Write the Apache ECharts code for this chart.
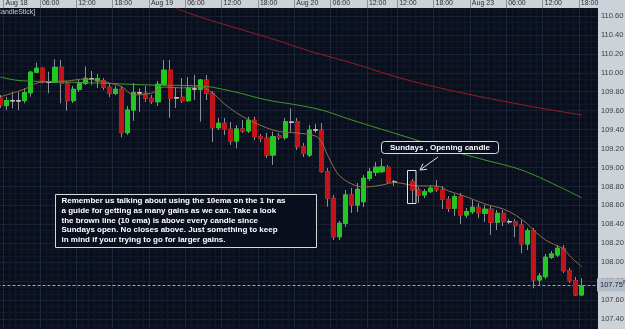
<!DOCTYPE html>
<html><head><meta charset="utf-8">
<script src="https://cdn.jsdelivr.net/npm/echarts@6/dist/echarts.min.js"></script>
<style>html,body{margin:0;padding:0;background:#cdd1d8;}#c{width:625px;height:329px;}</style>
</head><body><div id="c"></div>
<script>
// ---- data (hourly candles, index 0..96) ----
const opens = [109.731,109.653,109.703,109.705,109.706,109.790,110.006,110.048,109.905,109.900,
110.058,109.889,109.706,109.826,109.889,109.937,109.914,109.917,109.847,109.784,
109.826,109.368,109.607,109.790,109.784,109.731,109.695,109.879,110.027,109.737,
109.742,109.706,109.830,109.826,109.924,109.784,109.420,109.467,109.404,109.280,
109.407,109.386,109.499,109.325,109.308,109.132,109.333,109.315,109.480,109.484,
109.220,109.132,109.398,109.396,108.956,108.675,108.269,108.411,108.710,108.604,
108.639,108.886,108.949,108.956,109.002,108.848,null,null,108.850,108.763,
108.710,108.745,108.791,108.763,108.664,108.569,108.692,108.498,108.533,108.580,
108.516,108.559,108.422,108.516,108.428,108.428,108.393,108.192,108.333,107.812,
107.847,108.052,108.076,108.147,107.910,107.805,107.654];
const closes = [109.660,109.706,109.706,109.702,109.790,110.006,110.048,109.906,109.901,110.058,
109.889,109.706,109.826,109.889,109.942,109.933,109.940,109.847,109.784,109.826,
109.368,109.607,109.790,109.786,109.731,109.695,109.879,110.027,109.731,109.733,
109.706,109.837,109.828,109.924,109.784,109.420,109.467,109.404,109.280,109.407,
109.386,109.499,109.325,109.308,109.132,109.325,109.315,109.484,109.477,109.220,
109.150,109.396,109.395,108.956,108.675,108.269,108.411,108.710,108.604,108.770,
108.886,108.956,109.002,109.006,108.850,108.845,null,null,108.763,108.710,
108.745,108.781,108.763,108.664,108.569,108.692,108.498,108.533,108.580,108.523,
108.559,108.422,108.516,108.428,108.426,108.386,108.192,108.333,107.812,107.854,
108.052,108.087,108.147,107.910,107.805,107.654,107.749];
const highs = [109.766,109.745,109.800,109.800,109.836,110.022,110.107,110.058,110.012,110.143,
110.135,109.914,109.861,109.924,110.065,110.019,109.988,109.945,109.882,109.861,
109.861,109.650,109.893,109.836,109.861,109.766,109.914,110.135,110.135,109.840,
109.945,109.956,109.977,109.935,109.977,109.808,109.523,109.523,109.481,109.449,
109.502,109.537,109.537,109.354,109.364,109.378,109.364,109.523,109.625,109.523,
109.259,109.449,109.460,109.470,108.995,108.710,108.435,108.763,108.784,108.837,
108.921,108.995,109.058,109.097,109.027,108.868,null,null,108.879,108.794,
108.773,108.815,108.868,108.805,108.699,108.720,108.731,108.572,108.657,108.625,
108.604,108.594,108.551,108.551,108.456,108.456,108.446,108.361,108.361,107.886,
108.087,108.118,108.182,108.182,107.939,107.844,107.830];
const lows = [109.629,109.607,109.625,109.607,109.678,109.748,109.998,109.889,109.784,109.893,
109.678,109.600,109.681,109.797,109.871,109.871,109.840,109.819,109.745,109.766,
109.319,109.343,109.494,109.589,109.692,109.671,109.650,109.861,109.526,109.629,
109.681,109.692,109.713,109.484,109.713,109.269,109.396,109.343,109.238,109.203,
109.364,109.364,109.291,109.269,109.100,109.027,109.291,109.291,109.378,109.185,
109.111,109.111,109.364,108.942,108.586,108.234,108.234,108.372,108.520,108.530,
108.583,108.858,108.910,108.942,108.837,108.805,null,null,108.625,108.625,
108.678,108.731,108.742,108.562,108.530,108.488,108.404,108.467,108.509,108.467,
108.425,108.287,108.340,108.382,108.404,108.266,108.094,108.129,107.725,107.759,
107.823,108.034,108.055,107.886,107.780,107.643,107.643];

// moving averages, read at sample candles
const emaSlowIdx = [29,33,40,46,51,58,66,74,82,90,96];
const emaSlowVal = [110.680,110.589,110.452,110.336,110.230,110.104,109.945,109.819,109.713,109.618,109.555];
const emaMidIdx = [0,3,8,16,25,33,38,44,49,53,58,66,74,80,86,92,96];
const emaMidVal = [109.956,109.919,109.908,109.892,109.871,109.861,109.808,109.713,109.660,109.607,109.502,109.343,109.185,109.079,108.974,108.805,108.678];
const emaFastIdx = [0,4,6,8,11,14,18,20,22,25,27,30,33,35,37,39,41,44,46,49,52,53,54,55,56,58,60,63,65,69,72,74,77,80,83,85,87,88,90,92,93,94,96];
const emaFastVal = [109.748,109.829,109.892,109.906,109.914,109.935,109.892,109.853,109.766,109.787,109.850,109.840,109.853,109.787,109.671,109.576,109.502,109.417,109.380,109.364,109.333,109.269,109.132,109.006,108.911,108.826,108.794,108.815,108.842,108.805,108.805,108.752,108.689,108.615,108.562,108.499,108.404,108.340,108.235,108.171,108.140,108.066,107.949];

const lastPrice = 107.758;
const tickIdx  = [1,7,13,19,25,31,37,43,49,55,61,66,72,78,84,90,96];
const tickText = ['Aug 18','06:00','12:00','18:00','Aug 19','06:00','12:00','18:00','Aug 20','06:00','12:00','12:00','18:00','Aug 23','06:00','12:00','18:00'];

// ---- build ----
const N = 99;
const cats = Array.from({length:N},(_,i)=>String(i));
const cats2 = Array.from({length:N+1},(_,i)=>String(i));
const GREEN='#20c820', RED='#c21318', WICK='#8a9099', DOJI='#d8c4c4';
const wickData=[], bodyData=[];
for(let i=0;i<opens.length;i++){
  const o=opens[i], c=closes[i];
  if(o==null){wickData.push('-');bodyData.push('-');continue;}
  wickData.push([o,c,lows[i],highs[i]]);
  const b={value:[o,c,Math.min(o,c),Math.max(o,c)]};
  if(Math.abs(o-c)<0.006) b.itemStyle={color:DOJI,color0:DOJI,borderColor:DOJI,borderColor0:DOJI};
  bodyData.push(b);
}
const pairs=(a,b)=>a.map((x,i)=>[x,b[i]]);
const isTick=(i)=>tickIdx.indexOf(i)>=0;
const FONT='Liberation Sans';

const chart = echarts.init(document.getElementById('c'), null, {renderer:'canvas'});
chart.setOption({
  animation:false,
  backgroundColor:'#cdd1d8',
  grid:[
    {left:-2.5,right:28,top:-2.94,bottom:-8.94,show:false,containLabel:false,outerBoundsMode:'none'},
    {left:-2.5,right:28,top:8,bottom:0,show:true,backgroundColor:'#0a0f1d',borderWidth:0,containLabel:false,outerBoundsMode:'none'},
    {left:-2.5,right:28,top:8,bottom:0,show:false,containLabel:false,outerBoundsMode:'none'}
  ],
  xAxis:[
    {gridIndex:0,type:'category',data:cats,boundaryGap:true,show:false},
    {gridIndex:1,type:'category',data:cats2,boundaryGap:false,position:'top',z:5,
      axisLine:{show:false,onZero:false},
      axisTick:{show:true,inside:false,length:8,interval:(i)=>isTick(i),lineStyle:{color:'#8d929a',width:1}},
      axisLabel:{show:true,interval:(i)=>isTick(i),formatter:(v)=>'{t|'+(tickText[tickIdx.indexOf(Number(v))]||'')+'}',
        color:'#2a2d33',fontSize:7,fontFamily:FONT,align:'left',margin:1,
        rich:{t:{color:'#2a2d33',fontSize:7,fontFamily:FONT,padding:[0,0,0,2]}}},
      splitLine:{show:true,interval:(i)=>isTick(i),lineStyle:{color:'#1d2638',width:1}}},
    {gridIndex:2,type:'category',data:cats2,boundaryGap:false,z:1,
      axisLine:{show:false,onZero:false},axisTick:{show:false},axisLabel:{show:false},
      splitLine:{show:true,interval:0,lineStyle:{color:'#111928',width:1}}}
  ],
  yAxis:[
    {gridIndex:0,type:'value',min:107.2,max:110.8,interval:0.2,position:'right',z:1,scale:true,
      axisLine:{show:false},axisTick:{show:false},
      axisLabel:{color:'#3b3f46',fontSize:7.5,fontFamily:FONT,margin:4,formatter:(v)=>v.toFixed(2),showMinLabel:false,showMaxLabel:false},
      splitLine:{show:true,lineStyle:{color:'#1a2335',width:1}},
      minorTick:{show:false,splitNumber:3},
      minorSplitLine:{show:true,lineStyle:{color:'#111928',width:1}}},
    {gridIndex:1,type:'value',show:false},
    {gridIndex:2,type:'value',show:false}
  ],
  series:[
    {type:'candlestick',xAxisIndex:0,yAxisIndex:0,z:6,barWidth:4.6,data:wickData,
      itemStyle:{color:GREEN,color0:RED,borderColor:WICK,borderColor0:WICK,borderWidth:1}},
    {type:'candlestick',xAxisIndex:0,yAxisIndex:0,z:7,barWidth:4.6,data:bodyData,
      itemStyle:{color:GREEN,color0:RED,borderColor:GREEN,borderColor0:RED,borderWidth:1},
      markLine:{silent:true,symbol:['none','none'],animation:false,
        data:[{yAxis:lastPrice}],
        lineStyle:{type:[3,2],color:'#a0a6b0',width:1},
        label:{show:true,position:'end',distance:0,formatter:'{a|107.75}{b|8}',
          backgroundColor:'#b3bdcc',padding:[2,1,2,3],
          rich:{a:{fontSize:7.5,color:'#1e2228',fontFamily:FONT},b:{fontSize:5,color:'#1e2228',fontFamily:FONT,padding:[0,0,4,0]}}}}},
    {type:'line',xAxisIndex:0,yAxisIndex:0,z:8,data:pairs(emaSlowIdx,emaSlowVal),showSymbol:false,smooth:0.4,
      lineStyle:{color:'#961e22',width:1}},
    {type:'line',xAxisIndex:0,yAxisIndex:0,z:8,data:pairs(emaMidIdx,emaMidVal),showSymbol:false,smooth:0.4,
      lineStyle:{color:'#3f9a2c',width:1}},
    {type:'line',xAxisIndex:0,yAxisIndex:0,z:8,data:pairs(emaFastIdx,emaFastVal),showSymbol:false,smooth:0.35,
      lineStyle:{color:'#8f7048',width:1}}
  ],
  graphic:[
    {type:'rect',z:4,shape:{x:0,y:0,width:597,height:8},style:{fill:'#cdd1d8'}},
    {type:'text',z:10,x:-6,y:8.5,style:{text:'[CandleStick]',fill:'#c9ced6',font:'7px '+FONT,verticalAlign:'top'}},
    {type:'rect',z:10,shape:{x:55.5,y:194.5,width:261,height:53},style:{fill:'#0a0f1d',stroke:'#d8d8d8',lineWidth:1}},
    {type:'text',z:11,x:61.5,y:196.3,style:{text:'Remember us talking about using the 10ema on the 1 hr as\na guide for getting as many gains as we can. Take a look\nthe brown line (10 ema) is above every candle since\nSundays open. No closes above. Just something to keep\nin mind if your trying to go for larger gains.',
      fill:'#ffffff',font:'bold 8px '+FONT,lineHeight:9.6,verticalAlign:'top'}},
    {type:'rect',z:10,shape:{x:381.5,y:141.5,width:117,height:12,r:3},style:{fill:'#0a0f1d',stroke:'#e0e0e0',lineWidth:1}},
    {type:'text',z:11,x:440,y:147.6,style:{text:'Sundays , Opening candle',fill:'#ffffff',font:'bold 8px '+FONT,align:'center',verticalAlign:'middle'}},
    {type:'rect',z:10,shape:{x:407.5,y:170.5,width:8.5,height:33},style:{fill:'none',stroke:'#e8e8e8',lineWidth:1}},
    {type:'polyline',z:10,shape:{points:[[438,157],[420,170]]},style:{stroke:'#e0e0e0',lineWidth:1,fill:'none'}},
    {type:'polyline',z:10,shape:{points:[[427,169.3],[420,170],[423,163.6]]},style:{stroke:'#e0e0e0',lineWidth:1,fill:'none'}}
  ]
});
</script></body></html>
